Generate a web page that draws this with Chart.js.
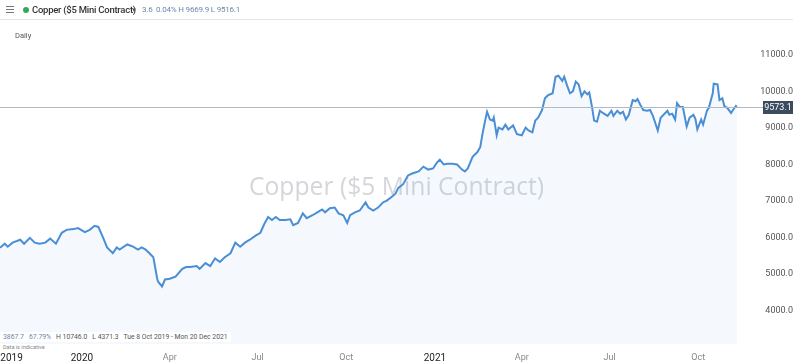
<!DOCTYPE html>
<html>
<head>
<meta charset="utf-8">
<script src="https://cdn.jsdelivr.net/npm/chart.js@4"></script>
<style>
  html, body { margin: 0; padding: 0; background: #fff; }
  body { width: 793px; height: 364px; position: relative; overflow: hidden; font-family: Roboto, "Noto Sans", sans-serif; }
  #chart { position: absolute; left: 0; top: 0; }
  .header { position: absolute; left: 0; top: 0; width: 793px; height: 19px; border-bottom: 1px solid #e2e5ea; background: #fff; white-space: nowrap; }
  .burger { position: absolute; left: 6px; top: 6px; width: 8px; }
  .burger span { display: block; height: 1px; background: #777; margin-bottom: 2px; }
  .dot { position: absolute; left: 23px; top: 7px; width: 6px; height: 6px; border-radius: 50%; background: #3aa757; }
  .title { position: absolute; left: 32px; top: 4px; font-size: 9.5px; letter-spacing: -0.25px; color: #333; font-weight: 500; }
  .caret { position: absolute; left: 131px; top: 6px; font-size: 6px; color: #555; }
  .stats { position: absolute; left: 142px; top: 5px; font-size: 8px; letter-spacing: -0.2px; color: #6b88ab; }
  .daily { position: absolute; left: 15px; top: 31px; font-size: 7.5px; color: #555; }
  .info { position: absolute; left: 0; top: 332px; background: #fff; padding: 1px 3px; font-size: 6.8px; color: #555; white-space: pre; }
  .info .b { color: #6b88ab; }
  .note { position: absolute; left: 0; top: 344px; background: #fff; padding: 0 3px; font-size: 5.5px; color: #888; }
</style>
</head>
<body>
<canvas id="chart" width="793" height="364"></canvas>
<div class="header">
  <div class="burger"><span></span><span></span><span></span></div>
  <div class="dot"></div>
  <div class="title">Copper ($5 Mini Contract)</div>
  <div class="caret">▼</div>
  <div class="stats">3.6&nbsp; 0.04% H 9669.9 L 9516.1</div>
</div>
<div class="daily">Daily</div>
<div class="info"><span class="b">3867.7   67.79%</span>   H 10746.0   L 4371.3   Tue 8 Oct 2019 - Mon 20 Dec 2021</div>
<div class="note">Data is indicative</div>
<script>
// days counted from Tue 8 Oct 2019
const days = [
    0, 5, 8, 13, 21, 25, 31, 36, 41, 47, 52, 58, 64, 69, 76, 81, 88, 93, 98, 102,
    107, 111, 117, 121, 124, 132, 138, 143, 147, 151, 156, 159, 163, 164, 168, 171, 176, 182, 189, 193,
    197, 204, 207, 213, 218, 223, 228, 233, 239, 244, 249, 254, 259, 265, 270, 274, 278, 282, 286, 290,
    296, 301, 304, 309, 314, 318, 324, 329, 334, 337, 342, 347, 351, 356, 360, 363, 368, 373, 379, 382,
    387, 392, 397, 401, 405, 410, 413, 418, 423, 428, 434, 439, 444, 449, 453, 456, 460, 464, 469, 474,
    479, 482, 485, 490, 495, 498, 500, 503, 505, 508, 511, 512, 515, 517, 521, 524, 527, 532, 536, 541,
    545, 548, 552, 555, 558, 562, 565, 568, 573, 576, 579, 583, 585, 588, 591, 594, 597, 600, 603, 606,
    609, 611, 614, 616, 619, 622, 625, 630, 634, 636, 640, 643, 646, 649, 652, 656, 659, 661, 664, 667,
    671, 674, 677, 682, 685, 688, 692, 694, 697, 700, 702, 705, 708, 712, 715, 719, 721, 723, 727, 729,
    733, 735, 739, 740, 744, 746, 749, 751, 754, 758, 760, 763, 764
];
const prices = [
    5720, 5830, 5750, 5860, 5940, 5830, 5990, 5860, 5830, 5860, 5970, 5830, 6130, 6210, 6230, 6260, 6150, 6210, 6320, 6290,
    5990, 5730, 5570, 5730, 5670, 5810, 5750, 5670, 5730, 5670, 5540, 5460, 4870, 4790, 4660, 4850, 4870, 4930, 5140, 5190,
    5190, 5220, 5140, 5300, 5220, 5430, 5330, 5460, 5570, 5860, 5750, 5860, 5940, 6050, 6130, 6370, 6560, 6480, 6560, 6480,
    6480, 6500, 6340, 6400, 6660, 6530, 6610, 6690, 6770, 6690, 6800, 6820, 6660, 6610, 6400, 6610, 6690, 6740, 6960, 6820,
    6740, 6820, 6960, 7010, 7090, 7200, 7360, 7460, 7700, 7760, 7810, 7940, 7860, 7890, 8050, 8130, 8000, 8020, 8020, 8000,
    7860, 7810, 7890, 8210, 8340, 8480, 8800, 9200, 9440, 9230, 9200, 9280, 8800, 9010, 8960, 9090, 8960, 9070, 8830, 8800,
    9010, 8930, 8880, 9200, 9280, 9490, 9810, 9890, 9950, 10400, 10430, 10290, 10400, 10160, 9950, 10000, 10270, 10190, 9870, 10000,
    9920, 9970, 9550, 9200, 9170, 9470, 9410, 9330, 9470, 9330, 9470, 9390, 9440, 9230, 9360, 9760, 9730, 9790, 9630, 9490,
    9470, 9490, 9330, 8930, 9280, 9360, 9470, 9360, 9390, 9230, 9680, 9570, 9570, 9040, 9280, 9360, 9250, 8960, 9230, 9090,
    9470, 9550, 9950, 10210, 10190, 9760, 9810, 9600, 9550, 9410, 9490, 9600, 9573.1
];
const tickDays = [12, 85, 176, 267, 359, 451, 541, 632, 724];
const tickLabels = ['2019', '2020', 'Apr', 'Jul', 'Oct', '2021', 'Apr', 'Jul', 'Oct'];
const yTicks = [4000, 5000, 6000, 7000, 8000, 9000, 10000, 11000];
const watermarkText = 'Copper ($5 Mini Contract)';

const watermark = {
    id: 'watermark',
    beforeDatasetsDraw(chart) {
        const ctx = chart.ctx;
        ctx.save();
        ctx.font = '24.7px "Open Sans", sans-serif';
        ctx.fillStyle = '#d4d6da';
        ctx.textAlign = 'center';
        ctx.textBaseline = 'middle';
        ctx.fillText(watermarkText, chart.width / 2, 188);
        ctx.restore();
    }
};

const lastPrice = {
    id: 'lastPrice',
    afterDatasetsDraw(chart) {
        const ctx = chart.ctx;
        const last = prices[prices.length - 1];
        const y = Math.round(chart.scales.y.getPixelForValue(last)) + 0.5;
        ctx.save();
        ctx.strokeStyle = '#b4b8c0';
        ctx.lineWidth = 1;
        ctx.beginPath();
        ctx.moveTo(0, y);
        ctx.lineTo(763, y);
        ctx.stroke();
        ctx.fillStyle = '#3d4b5f';
        ctx.fillRect(763, y - 6.5, 30, 13);
        ctx.fillStyle = '#fff';
        ctx.font = '9px Roboto, sans-serif';
        ctx.textAlign = 'center';
        ctx.textBaseline = 'middle';
        ctx.fillText(last.toFixed(1), 778, y + 0.5);
        ctx.restore();
    }
};

new Chart(document.getElementById('chart'), {
    type: 'line',
    data: {
        datasets: [{
            data: days.map((d, i) => ({x: d, y: prices[i]})),
            borderColor: '#4a8fd6',
            borderWidth: 2,
            backgroundColor: 'rgba(74, 143, 214, 0.055)',
            fill: 'start',
            pointRadius: 0,
            tension: 0,
        }],
    },
    options: {
        responsive: false,
        animation: false,
        layout: {padding: {top: 22, left: 0, right: 0, bottom: 0}},
        plugins: {legend: {display: false}, tooltip: {enabled: false}},
        scales: {
            x: {
                type: 'linear',
                min: 0,
                max: 788,
                grid: {display: false},
                border: {display: false},
                afterBuildTicks: (scale) => { scale.ticks = tickDays.map(v => ({value: v})); },
                ticks: {
                    autoSkip: false,
                    maxRotation: 0,
                    padding: 0,
                    callback: (v, i) => tickLabels[i],
                    color: (c) => /^\d/.test(tickLabels[c.index]) ? '#222' : '#888',
                    font: (c) => ({family: 'Roboto', size: /^\d/.test(tickLabels[c.index]) ? 10 : 9}),
                },
            },
            y: {
                position: 'right',
                min: 3085,
                max: 11900,
                grid: {display: false},
                border: {display: false},
                afterBuildTicks: (scale) => { scale.ticks = yTicks.map(v => ({value: v})); },
                afterFit: (scale) => { scale.width = 33; },
                ticks: {
                    crossAlign: 'far',
                    padding: 2,
                    color: '#555',
                    font: {family: 'Roboto', size: 9},
                    callback: (v) => v.toFixed(1),
                },
            },
        },
    },
    plugins: [watermark, lastPrice],
});
</script>
</body>
</html>
